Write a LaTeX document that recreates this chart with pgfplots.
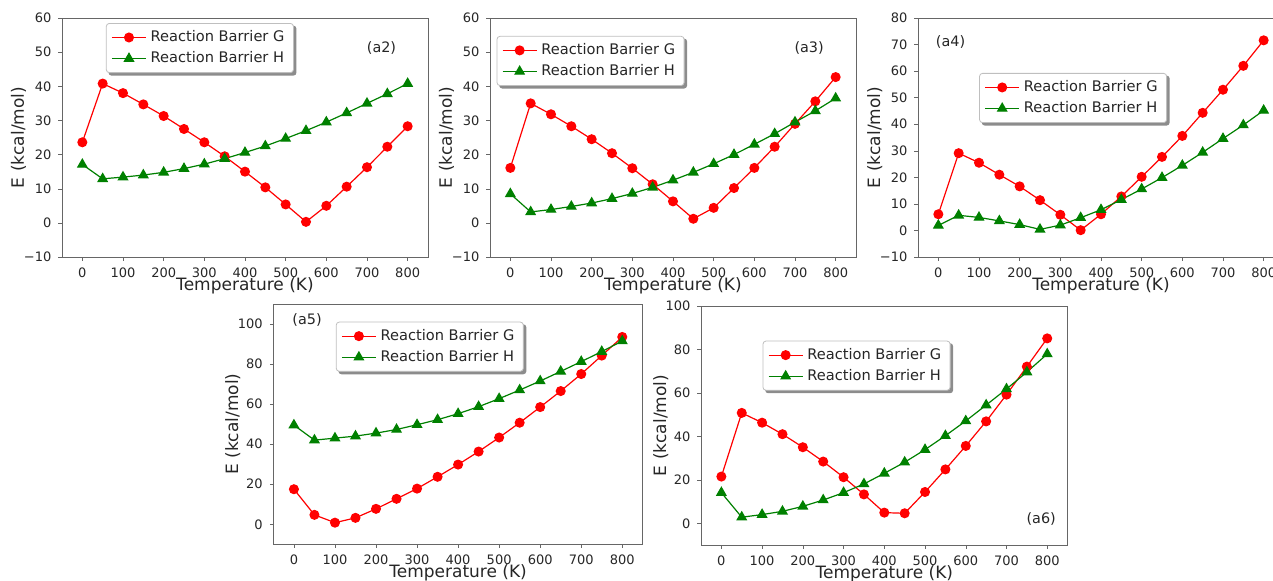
\documentclass[border=0pt]{standalone}
\usepackage{fontspec}
\setmainfont{DejaVu Sans}
\usepackage{pgfplots}
\usepackage{pgfplotstable}
\pgfplotsset{compat=1.18}

% columns: T, barrier G, barrier H
\pgfplotstableread{
T G H
0 23.6 17.1
50 40.8 12.9
100 38.0 13.4
150 34.7 14.0
200 31.3 14.8
250 27.5 15.9
300 23.6 17.2
350 19.5 18.8
400 15.0 20.6
450 10.4 22.5
500 5.4 24.7
550 0.3 27.0
600 5.0 29.5
650 10.6 32.2
700 16.3 35.0
750 22.3 37.8
800 28.3 40.8
}\datatwo
\pgfplotstableread{
T G H
0 16.1 8.5
50 35.0 3.2
100 31.8 3.9
150 28.3 4.8
200 24.5 5.8
250 20.4 7.1
300 16.0 8.6
350 11.3 10.4
400 6.3 12.5
450 1.2 14.8
500 4.4 17.3
550 10.2 20.0
600 16.1 23.0
650 22.3 26.1
700 29.0 29.5
750 35.6 32.8
800 42.7 36.5
}\datathree
\pgfplotstableread{
T G H
0 6.1 1.9
50 29.1 5.7
100 25.5 4.9
150 21.0 3.6
200 16.6 2.2
250 11.4 0.4
300 5.9 2.0
350 0.1 4.8
400 6.1 7.8
450 12.8 11.6
500 20.2 15.6
550 27.7 19.9
600 35.6 24.5
650 44.3 29.4
700 53.0 34.6
750 62.0 39.7
800 71.6 45.2
}\datafour
\pgfplotstableread{
T G H
0 17.5 49.5
50 4.7 42.0
100 0.8 43.0
150 3.2 44.0
200 7.7 45.5
250 12.7 47.3
300 17.8 49.7
350 23.7 52.2
400 29.8 55.2
450 36.3 58.7
500 43.3 62.7
550 50.7 67.0
600 58.5 71.5
650 66.5 76.3
700 75.0 81.2
750 84.2 86.2
800 93.5 91.5
}\datafive
\pgfplotstableread{
T G H
0 21.5 14.1
50 50.8 2.8
100 46.3 4.0
150 41.0 5.5
200 35.0 7.8
250 28.4 10.7
300 21.2 14.1
350 13.3 18.1
400 4.9 23.0
450 4.6 28.1
500 14.4 33.9
550 24.8 40.3
600 35.6 47.1
650 46.9 54.4
700 59.2 61.8
750 72.1 69.6
800 85.1 77.9
}\datasix

\pgfdeclarelayer{background}
\pgfsetlayers{background,main}

\tikzset{tag/.style={font=\fontsize{7.2}{8.5}\selectfont, text=black!85}}

\pgfplotsset{
  panel/.style={
    scale only axis,
    anchor=south west,
    xmin=-50, xmax=850,
    xtick={0,100,...,800},
    axis line style={black!60},
    tick style={black!60},
    tick align=outside,
    major tick length=1.8pt,
    xtick pos=bottom, ytick pos=left,
    ticklabel style={font=\fontsize{6.5}{7.5}\selectfont, text=black!85},
    /pgf/number format/assume math mode=true,
    label style={font=\fontsize{8.5}{10}\selectfont, text=black!85},
    xlabel={Temperature (K)},
    ylabel={E (kcal/mol)},
    xlabel style={at={(axis description cs:0.5,0)}, anchor=north, yshift=-7pt},
    legend cell align=left,
    legend style={anchor=north west, draw=black!25, rounded corners=1.5pt,
      fill=white, font=\fontsize{7.3}{8.5}\selectfont, text=black!85,
      inner xsep=2.5pt, inner ysep=1.5pt, row sep=-0.5pt},
  },
  gline/.style={red, line width=0.6pt, mark=*, mark size=2.2pt, mark options={solid, fill=red}},
  hline/.style={green!50!black, line width=0.6pt, mark=triangle*, mark size=2.6pt, mark options={solid, fill=green!50!black}},
}

\begin{document}
\begin{tikzpicture}
\path[use as bounding box] (0,0) rectangle (636.5pt,290pt);

\begin{axis}[panel, at={(31pt,161.5pt)}, width=183pt, height=119.5pt,
  ymin=-10, ymax=60, ytick={-10,0,...,60},
  yticklabels={−10,0,10,20,30,40,50,60},
  ylabel style={at={(axis description cs:-0.119,0.5)}, anchor=center},
  legend style={name=legtwo, at={(axis description cs:0.120,0.979)}}]
\addplot[gline] table[x=T, y=G] {\datatwo};
\addplot[hline] table[x=T, y=H] {\datatwo};
\legend{Reaction Barrier G, Reaction Barrier H}
\node[tag] at (axis description cs:0.873,0.873) {(a2)};
\end{axis}

\begin{axis}[panel, at={(245pt,161.5pt)}, width=183pt, height=119.5pt,
  ymin=-10, ymax=60, ytick={-10,0,...,60},
  yticklabels={−10,0,10,20,30,40,50,60},
  ylabel style={at={(axis description cs:-0.119,0.5)}, anchor=center},
  legend style={name=legthree, at={(axis description cs:0.018,0.925)}}]
\addplot[gline] table[x=T, y=G] {\datathree};
\addplot[hline] table[x=T, y=H] {\datathree};
\legend{Reaction Barrier G, Reaction Barrier H}
\node[tag] at (axis description cs:0.872,0.873) {(a3)};
\end{axis}

\begin{axis}[panel, at={(459pt,161.5pt)}, width=183pt, height=119.5pt,
  ymin=-10, ymax=80, ytick={-10,0,...,80},
  yticklabels={−10,0,10,20,30,40,50,60,70,80},
  ylabel style={at={(axis description cs:-0.118,0.5)}, anchor=center},
  legend style={name=legfour, at={(axis description cs:0.167,0.770)}}]
\addplot[gline] table[x=T, y=G] {\datafour};
\addplot[hline] table[x=T, y=H] {\datafour};
\legend{Reaction Barrier G, Reaction Barrier H}
\node[tag] at (axis description cs:0.089,0.901) {(a4)};
\end{axis}

\begin{axis}[panel, at={(136.7pt,17.85pt)}, width=184.7pt, height=120.2pt,
  ymin=-10, ymax=110, ytick={0,20,...,100},
  xlabel style={yshift=0.3pt},
  ylabel style={at={(axis description cs:-0.110,0.5)}, anchor=center},
  legend style={name=legfive, at={(axis description cs:0.169,0.926)}}]
\addplot[gline] table[x=T, y=G] {\datafive};
\addplot[hline] table[x=T, y=H] {\datafive};
\legend{Reaction Barrier G, Reaction Barrier H}
\node[tag] at (axis description cs:0.091,0.933) {(a5)};
\end{axis}

\begin{axis}[panel, at={(350.5pt,17.5pt)}, width=183.3pt, height=119.5pt,
  ymin=-10, ymax=100, ytick={0,20,...,100},
  xlabel style={yshift=0.3pt},
  ylabel style={at={(axis description cs:-0.110,0.5)}, anchor=center},
  legend style={name=legsix, at={(axis description cs:0.168,0.855)}}]
\addplot[gline] table[x=T, y=G] {\datasix};
\addplot[hline] table[x=T, y=H] {\datasix};
\legend{Reaction Barrier G, Reaction Barrier H}
\node[tag] at (axis description cs:0.928,0.107) {(a6)};
\end{axis}

% legend shadows
\begin{pgfonlayer}{background}
\foreach \l in {legtwo,legthree,legfour,legfive,legsix}
  \fill[black!45, rounded corners=1.5pt]
    ([shift={(1.3pt,-1.3pt)}]\l.south west) rectangle ([shift={(1.3pt,-1.3pt)}]\l.north east);
\end{pgfonlayer}
\end{tikzpicture}
\end{document}
